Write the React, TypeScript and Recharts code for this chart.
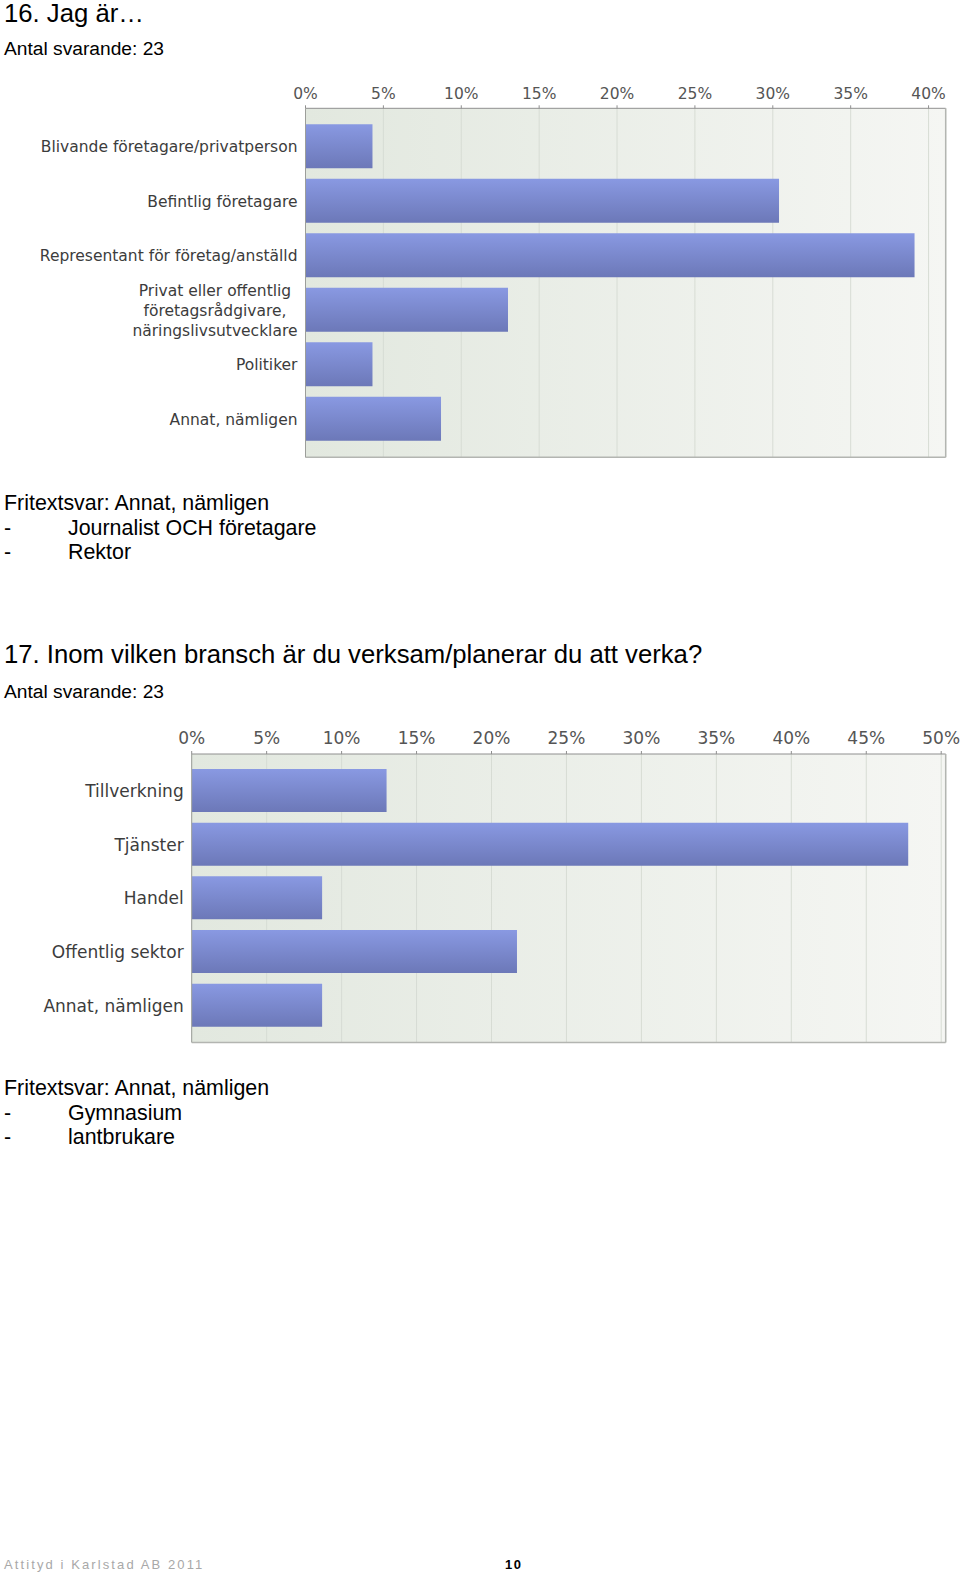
import { useLayoutEffect, useRef, useState } from 'react';
import { BarChart, Bar, XAxis, YAxis, CartesianGrid } from 'recharts';

// Fråga 16
const q16Categories = [
  'Blivande företagare/privatperson',
  'Befintlig företagare',
  'Representant för företag/anställd',
  'Privat eller offentlig\nföretagsrådgivare,\nnäringslivsutvecklare',
  'Politiker',
  'Annat, nämligen',
];
const q16Percent = [4.3, 30.4, 39.1, 13.0, 4.3, 8.7];
const q16Ticks = [0, 5, 10, 15, 20, 25, 30, 35, 40];
const q16Max = 41.1;

// Fråga 17
const q17Categories = ['Tillverkning', 'Tjänster', 'Handel', 'Offentlig sektor', 'Annat, nämligen'];
const q17Percent = [13.0, 47.8, 8.7, 21.7, 8.7];
const q17Ticks = [0, 5, 10, 15, 20, 25, 30, 35, 40, 45, 50];
const q17Max = 50.3;

const CHART_FONT = '"DejaVu Sans", Verdana, sans-serif';
const PAGE_FONT = '"Liberation Sans", Arial, Helvetica, sans-serif';

function CategoryTick(props: any) {
  const { x, y, payload, fs, lh } = props;
  const lines = String(payload.value).split('\n');
  const ref = useRef<SVGTextElement>(null);
  const [w, setW] = useState(0);
  useLayoutEffect(() => {
    if (ref.current) setW(ref.current.getBBox().width);
  }, [payload.value]);
  const multi = lines.length > 1;
  const cx = multi ? x - w / 2 : x;
  return (
    <text
      ref={ref}
      x={cx}
      y={y}
      textAnchor={multi ? 'middle' : 'end'}
      fontSize={fs}
      fontFamily={CHART_FONT}
      fill="#3c3c3c"
    >
      {lines.map((l, i) => (
        <tspan key={i} x={cx} dy={i === 0 ? -((lines.length - 1) / 2) * lh + fs * 0.36 : lh}>
          {l}
        </tspan>
      ))}
    </text>
  );
}

interface SurveyBarsProps {
  id: string;
  categories: string[];
  values: number[];
  ticks: number[];
  max: number;
  width: number;
  height: number;
  axisWidth: number;
  axisHeight: number;
  marginRight: number;
  marginBottom: number;
  barSize: number;
  pad: number;
  fontSize: number;
  tickGap: number;
}

function SurveyBars(p: SurveyBarsProps) {
  const data = p.categories.map((c, i) => ({ name: c, value: p.values[i] }));
  return (
    <BarChart
      width={p.width}
      height={p.height}
      data={data}
      layout="vertical"
      margin={{ top: 0, right: p.marginRight - 1, bottom: p.marginBottom - 1, left: 0 }}
    >
      <defs>
        <linearGradient id={`bg-${p.id}`} x1="0" y1="0" x2="1" y2="0">
          <stop offset="0%" stopColor="#e2e8df" />
          <stop offset="100%" stopColor="#f5f6f3" />
        </linearGradient>
        <linearGradient id={`bar-${p.id}`} x1="0" y1="0" x2="0" y2="1">
          <stop offset="0%" stopColor="#8999e2" />
          <stop offset="100%" stopColor="#6c78b8" />
        </linearGradient>
      </defs>
      <CartesianGrid horizontal={false} stroke="#d7dcd4" fill={`url(#bg-${p.id})`} />
      <XAxis
        type="number"
        orientation="top"
        domain={[0, p.max]}
        ticks={p.ticks}
        height={p.axisHeight}
        tickFormatter={(v) => `${v}%`}
        tick={{ fontSize: p.fontSize, fill: '#555', fontFamily: CHART_FONT }}
        tickSize={3}
        tickMargin={p.tickGap}
        stroke="#8f8f8f"
        allowDataOverflow
      />
      <XAxis
        xAxisId="bottom"
        type="number"
        orientation="bottom"
        domain={[0, p.max]}
        height={1}
        tick={false}
        tickLine={false}
        axisLine={{ stroke: '#b3b5b1', strokeWidth: 1.5 }}
        allowDataOverflow
      />
      <YAxis
        type="category"
        dataKey="name"
        width={p.axisWidth}
        interval={0}
        tickLine={false}
        tickSize={0}
        tickMargin={8}
        axisLine={{ stroke: '#9c9e9a' }}
        padding={{ top: p.pad, bottom: p.pad }}
        tick={<CategoryTick fs={p.fontSize} lh={20} />}
      />
      <YAxis
        yAxisId="right"
        type="category"
        dataKey="name"
        orientation="right"
        width={1}
        tick={false}
        tickLine={false}
        axisLine={{ stroke: '#b3b5b1', strokeWidth: 1.5 }}
      />
      <Bar dataKey="value" barSize={p.barSize} fill={`url(#bar-${p.id})`} isAnimationActive={false} />
    </BarChart>
  );
}

export default function App() {
  return (
    <div style={{ position: 'absolute', left: 0, top: 0, width: 960, height: 1574, background: '#fff' }}>
      <svg width={960} height={1574} style={{ position: 'absolute', left: 0, top: 0 }} fontFamily={PAGE_FONT} fill="#000">
        <text x={4} y={22} fontSize={25.7}>16. Jag är…</text>
        <text x={4} y={55} fontSize={19.2}>Antal svarande: 23</text>

        <text x={4} y={510} fontSize={21.4}>Fritextsvar: Annat, nämligen</text>
        <text x={4} y={534.5} fontSize={21.4}>-</text>
        <text x={68} y={534.5} fontSize={21.4}>Journalist OCH företagare</text>
        <text x={4} y={559} fontSize={21.4}>-</text>
        <text x={68} y={559} fontSize={21.4}>Rektor</text>

        <text x={4} y={663} fontSize={25.7}>17. Inom vilken bransch är du verksam/planerar du att verka?</text>
        <text x={4} y={698} fontSize={19.2}>Antal svarande: 23</text>

        <text x={4} y={1095} fontSize={21.4}>Fritextsvar: Annat, nämligen</text>
        <text x={4} y={1119.5} fontSize={21.4}>-</text>
        <text x={68} y={1119.5} fontSize={21.4}>Gymnasium</text>
        <text x={4} y={1144} fontSize={21.4}>-</text>
        <text x={68} y={1144} fontSize={21.4}>lantbrukare</text>

        <text x={4} y={1569} fontSize={13} fill="#a8a8a8" letterSpacing={2.1}>Attityd i Karlstad AB 2011</text>
        <text x={505} y={1569} fontSize={13} fontWeight="bold" letterSpacing={1.5}>10</text>
      </svg>

      <div style={{ position: 'absolute', left: 0, top: 60 }}>
        <SurveyBars
          id="q16"
          categories={q16Categories}
          values={q16Percent}
          ticks={q16Ticks}
          max={q16Max}
          width={960}
          height={410}
          axisWidth={305.5}
          axisHeight={48.3}
          marginRight={14.3}
          marginBottom={12.7}
          barSize={44}
          pad={11}
          fontSize={15.5}
          tickGap={6}
        />
      </div>

      <div style={{ position: 'absolute', left: 0, top: 700 }}>
        <SurveyBars
          id="q17"
          categories={q17Categories}
          values={q17Percent}
          ticks={q17Ticks}
          max={q17Max}
          width={960}
          height={360}
          axisWidth={191.7}
          axisHeight={54}
          marginRight={14.3}
          marginBottom={17.6}
          barSize={43}
          pad={10}
          fontSize={17}
          tickGap={7}
        />
      </div>
    </div>
  );
}
